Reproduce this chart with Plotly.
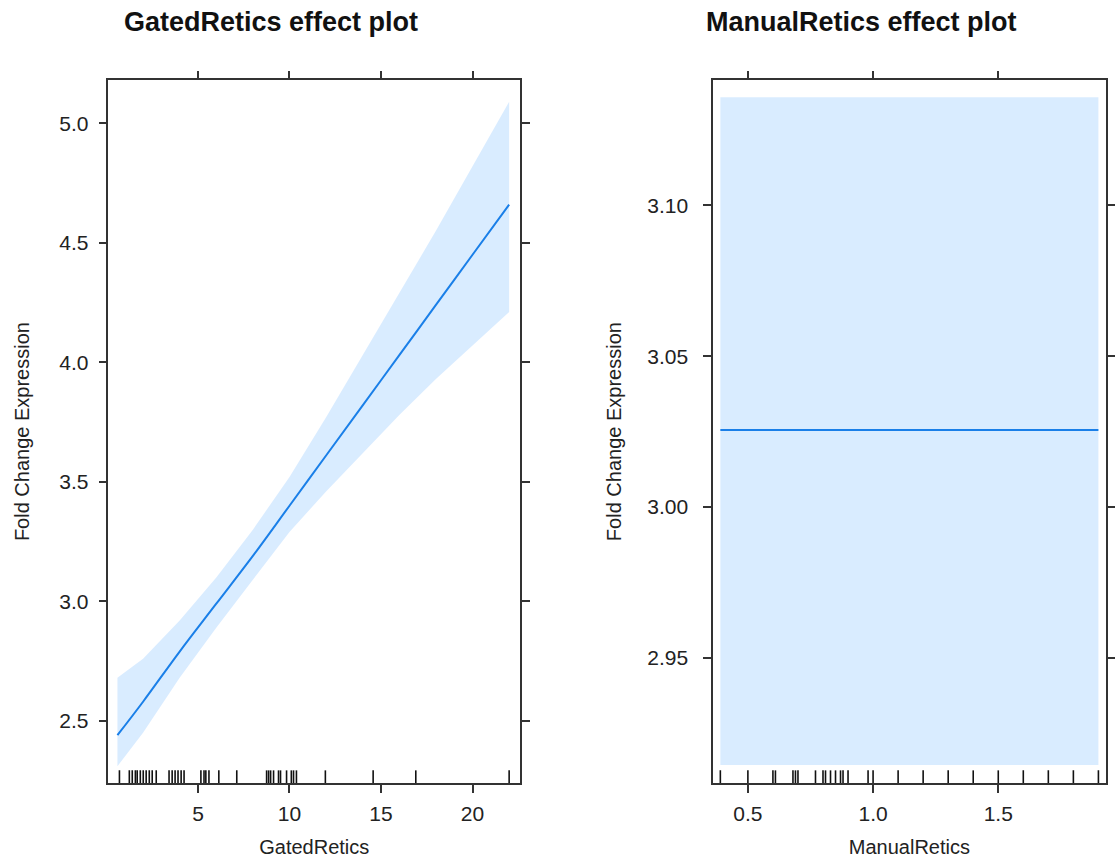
import plotly.graph_objects as go

# ---- data: GatedRetics effect ----
gated_x = [0.6, 2, 4, 6, 8, 10, 12, 14, 16, 18, 20, 22]
gated_fit = [2.44, 2.58, 2.79, 2.99, 3.19, 3.40, 3.61, 3.82, 4.03, 4.24, 4.45, 4.66]
gated_upper = [2.68, 2.76, 2.92, 3.10, 3.30, 3.52, 3.77, 4.03, 4.29, 4.55, 4.82, 5.09]
gated_lower = [2.31, 2.45, 2.68, 2.89, 3.09, 3.29, 3.46, 3.62, 3.78, 3.93, 4.07, 4.21]
gated_rug = [0.71, 1.25, 1.41, 1.58, 1.68, 1.85, 2.01, 2.17, 2.34, 2.5, 2.72,
             3.42, 3.59, 3.75, 3.91, 4.08, 4.24, 5.16, 5.33, 5.43, 5.6, 6.14, 7.12,
             8.75, 8.86, 8.97, 9.13, 9.4, 9.51, 9.84, 10.1, 10.22, 10.38, 11.96,
             14.57, 16.9, 22.0]
gated_ticks = [5, 10, 15, 20]
gated_yticks = [2.5, 3.0, 3.5, 4.0, 4.5, 5.0]

# ---- data: ManualRetics effect ----
manual_x = [0.39, 1.9]
manual_fit = [3.0255, 3.0255]
manual_upper = [3.1358, 3.1358]
manual_lower = [2.9146, 2.9146]
manual_rug = [0.39, 0.5, 0.6, 0.61, 0.68, 0.69, 0.7, 0.77, 0.8, 0.81, 0.83, 0.85,
              0.87, 0.88, 0.9, 0.98, 1.0, 1.1, 1.2, 1.3, 1.4, 1.5, 1.6, 1.7, 1.8, 1.9]
manual_ticks = [0.5, 1.0, 1.5]
manual_yticks = [2.95, 3.00, 3.05, 3.10]

BAND = "rgba(0,128,255,0.15)"
LINE = "#1a7fe8"
FRAME = "#333333"
FONT = "Liberation Sans, Arial, sans-serif"
TXT = "#222222"

fig = go.Figure()

# left panel
fig.add_trace(go.Scatter(x=gated_x, y=gated_upper, mode="lines", line=dict(width=0),
                         xaxis="x", yaxis="y", showlegend=False, hoverinfo="skip"))
fig.add_trace(go.Scatter(x=gated_x, y=gated_lower, mode="lines", line=dict(width=0),
                         fill="tonexty", fillcolor=BAND,
                         xaxis="x", yaxis="y", showlegend=False, hoverinfo="skip"))
fig.add_trace(go.Scatter(x=gated_x, y=gated_fit, mode="lines", line=dict(color=LINE, width=2),
                         line_shape="spline", xaxis="x", yaxis="y", showlegend=False))

# right panel
fig.add_trace(go.Scatter(x=manual_x, y=manual_upper, mode="lines", line=dict(width=0),
                         xaxis="x2", yaxis="y2", showlegend=False, hoverinfo="skip"))
fig.add_trace(go.Scatter(x=manual_x, y=manual_lower, mode="lines", line=dict(width=0),
                         fill="tonexty", fillcolor=BAND,
                         xaxis="x2", yaxis="y2", showlegend=False, hoverinfo="skip"))
fig.add_trace(go.Scatter(x=manual_x, y=manual_fit, mode="lines", line=dict(color=LINE, width=2),
                         xaxis="x2", yaxis="y2", showlegend=False))

# rugs
shapes = []
for v in gated_rug:
    shapes.append(dict(type="line", xref="x", yref="y domain", x0=v, x1=v, y0=0, y1=0.018,
                       line=dict(color="#111111", width=1.6)))
for v in manual_rug:
    shapes.append(dict(type="line", xref="x2", yref="y2 domain", x0=v, x1=v, y0=0, y1=0.018,
                       line=dict(color="#111111", width=1.6)))

axis_common = dict(showline=True, linecolor=FRAME, linewidth=1.5, mirror="ticks",
                   ticks="outside", ticklen=8, tickwidth=1.5, tickcolor=FRAME,
                   showgrid=False, zeroline=False,
                   tickfont=dict(family=FONT, size=21, color=TXT))
title_font = dict(family=FONT, size=20, color=TXT)

fig.update_layout(
    width=1115, height=863,
    margin=dict(l=0, r=0, t=0, b=0),
    paper_bgcolor="white", plot_bgcolor="white",
    font=dict(family=FONT),
    xaxis=dict(domain=[0.0978, 0.469], range=[0.11, 22.6], anchor="y",
               tickvals=gated_ticks, ticktext=[str(t) for t in gated_ticks],
               ticklabelstandoff=3,
               title=dict(text="GatedRetics", font=title_font, standoff=16),
               **axis_common),
    yaxis=dict(domain=[0.0927, 0.907], range=[2.24, 5.18], anchor="x",
               tickvals=gated_yticks, ticktext=[f"{t:.1f}" for t in gated_yticks],
               ticklabelstandoff=6,
               title=dict(text="Fold Change Expression", font=title_font, standoff=24),
               **axis_common),
    xaxis2=dict(domain=[0.643, 0.997], range=[0.361, 1.929], anchor="y2",
                tickvals=manual_ticks, ticktext=[f"{t:.1f}" for t in manual_ticks],
                ticklabelstandoff=3,
                title=dict(text="ManualRetics", font=title_font, standoff=16),
                **axis_common),
    yaxis2=dict(domain=[0.0927, 0.907], range=[2.9086, 3.1414], anchor="x2",
                tickvals=manual_yticks, ticktext=[f"{t:.2f}" for t in manual_yticks],
                ticklabelstandoff=11,
                title=dict(text="Fold Change Expression", font=title_font, standoff=20),
                **axis_common),
    shapes=shapes,
    annotations=[
        dict(text="<b>GatedRetics effect plot</b>", x=272 / 1115, y=1 - 22 / 863, xref="paper", yref="paper",
             showarrow=False, font=dict(family=FONT, size=27, color="#111111"), xanchor="center", yanchor="middle"),
        dict(text="<b>ManualRetics effect plot</b>", x=866 / 1115, y=1 - 22 / 863, xref="paper", yref="paper",
             showarrow=False, font=dict(family=FONT, size=27, color="#111111"), xanchor="center", yanchor="middle"),
    ],
)

fig.write_html("out.html")
